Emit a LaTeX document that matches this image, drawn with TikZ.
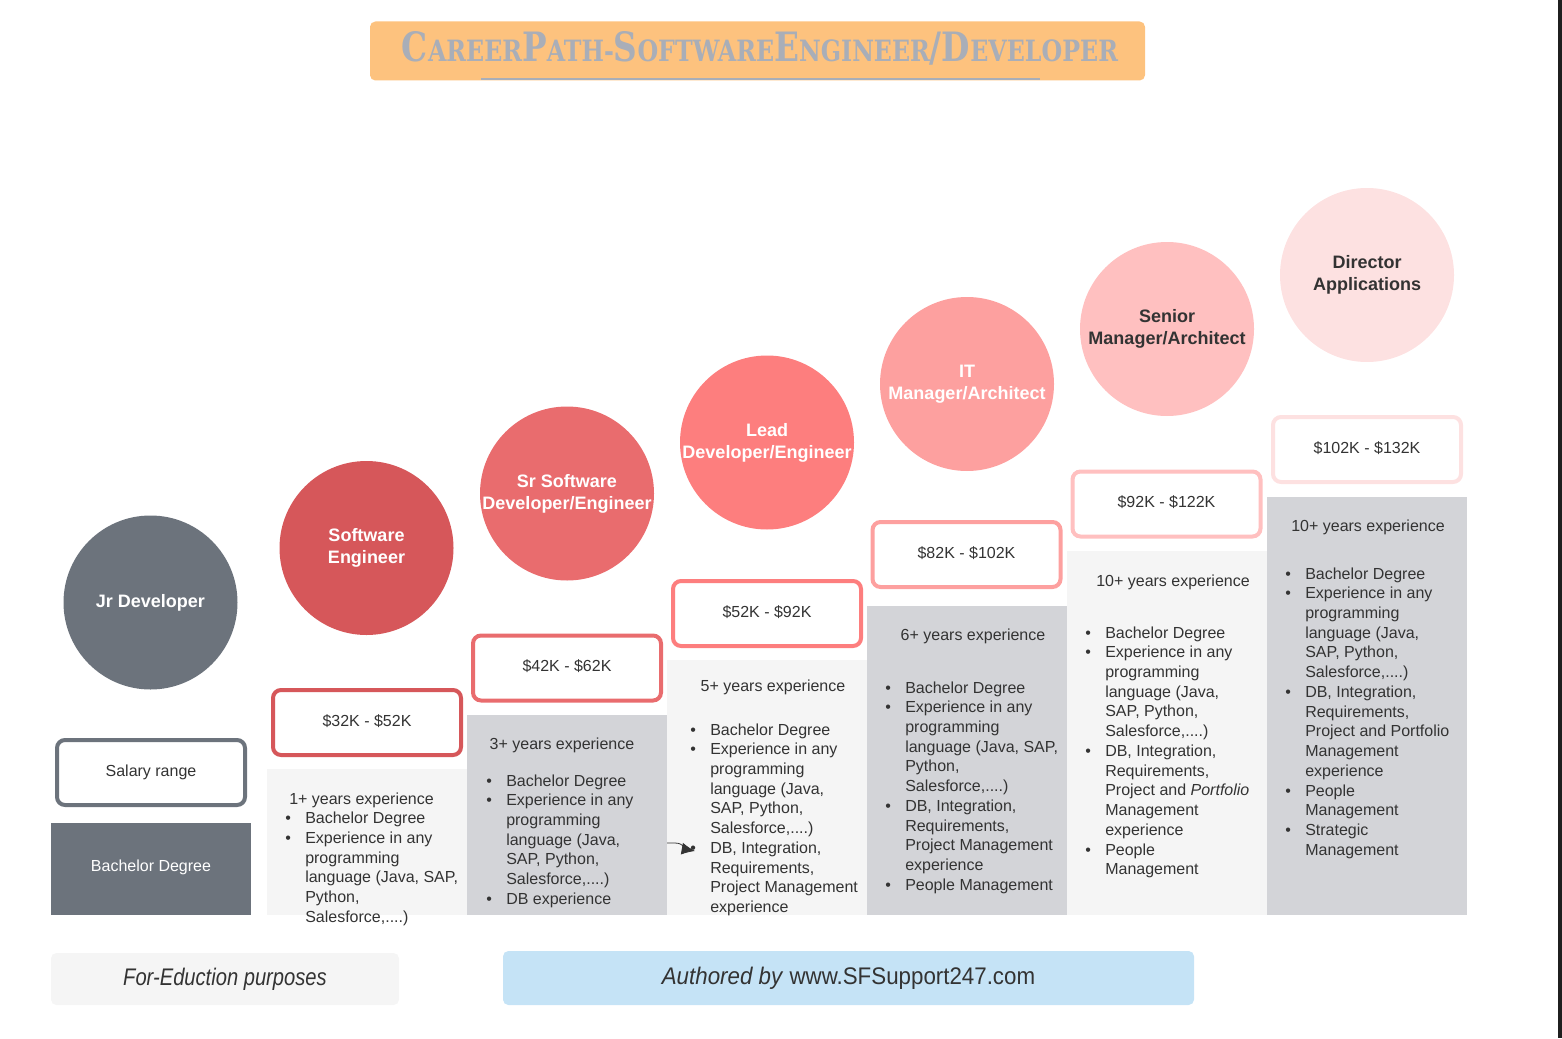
\documentclass[tikz,border=0pt]{standalone}
\usepackage{fontspec}
\setmainfont{Liberation Sans}
\newfontfamily\titlefont[FakeStretch=0.75]{DejaVu Serif}
\newfontfamily\footfont[FakeStretch=0.84]{Liberation Sans}
\newfontfamily\authfont[FakeStretch=0.93]{Liberation Sans}
\usetikzlibrary{arrows.meta}
\definecolor{jrgray}{HTML}{6C737C}
\definecolor{lvlone}{HTML}{D6575A}
\definecolor{lvltwo}{HTML}{E96C6E}
\definecolor{lvlthree}{HTML}{FD7E7E}
\definecolor{lvlfour}{HTML}{FDA09F}
\definecolor{lvlfive}{HTML}{FFC0C0}
\definecolor{lvlsix}{HTML}{FDE1E1}
\definecolor{bandlight}{HTML}{F5F5F5}
\definecolor{bandmid}{HTML}{D3D4D8}
\definecolor{titleorange}{HTML}{FDC27E}
\definecolor{titlegray}{HTML}{A9AEB8}
\definecolor{footblue}{HTML}{C5E3F6}
\definecolor{ink}{HTML}{333333}
\newcommand{\bu}{\makebox[15pt][l]{\textbullet}}
\newcommand{\ind}{\hspace*{15pt}}
\newcommand{\tcap}[2]{{\fontsize{31}{31}\selectfont #1}{\fontsize{22.5}{22.5}\selectfont #2}}

\begin{document}
\begin{tikzpicture}[x=0.75pt, y=-0.75pt,
    role/.style={circle, minimum size=130.5pt, inner sep=0pt, align=center, font=\fontsize{13.5}{16.5}\selectfont\bfseries},
    paybox/.style={draw, line width=3pt, rounded corners=6pt, fill=white, minimum width=141pt, minimum height=48.75pt, text=ink, font=\fontsize{12}{14.8}\selectfont, text depth=3pt},
    band/.style={anchor=north west, inner sep=0pt, minimum width=150pt},
    bandhead/.style={anchor=base, inner sep=0pt, text=ink, font=\fontsize{12}{14.8}\selectfont},
    bandlist/.style={anchor=base west, inner sep=0pt, text=ink, font=\fontsize{12}{14.8}\selectfont},
    footbox/.style={rounded corners=4pt, inner sep=0pt, text=ink}]
        \useasboundingbox (0,0) rectangle (1562,1038);
        % Title, steps, circles and salary boxes:
        \node[fill=titleorange, rounded corners=4pt, minimum width=581.25pt, minimum height=44.25pt] (title) at (757.5, 51){};
        \node[anchor=base, inner sep=0pt, text=titlegray] (titletext) at (760, 62){\resizebox{537pt}{22.5pt}{\titlefont\bfseries\tcap{C}{AREER}\tcap{P}{ATH}{\fontsize{22.5}{22.5}\selectfont-}\tcap{S}{OFTWARE}\tcap{E}{NGINEER}{\fontsize{31}{31}\selectfont/}\tcap{D}{EVELOPER}}};
        \draw[titlegray, line width=1.5pt] (481, 79) -- (1040, 79);
        \node[band, fill=jrgray, minimum height=69pt] (degree) at (51, 823){};
        \node[text=white, font=\fontsize{12}{14.8}\selectfont] (degreetext) at (151, 867){Bachelor Degree};
        \node[band, fill=bandlight, minimum height=109.5pt] (colone) at (267, 769){};
        \node[band, fill=bandmid, minimum height=150pt] (coltwo) at (467, 715){};
        \node[band, fill=bandlight, minimum height=191.25pt] (colthree) at (667, 660){};
        \node[band, fill=bandmid, minimum height=231.75pt] (colfour) at (867, 606){};
        \node[band, fill=bandlight, minimum height=273pt] (colfive) at (1067, 551){};
        \node[band, fill=bandmid, minimum height=313.5pt] (colsix) at (1267, 497){};
        \node[role, fill=jrgray, text=white] (jr) at (150.5, 602.5){Jr Developer};
        \node[role, fill=lvlone, text=white] (swe) at (366.5, 548){Software\\Engineer};
        \node[role, fill=lvltwo, text=white] (srswe) at (567, 493.5){Sr Software\\Developer/Engineer};
        \node[role, fill=lvlthree, text=white] (lead) at (767, 442.5){Lead\\Developer/Engineer};
        \node[role, fill=lvlfour, text=white] (itmgr) at (967, 384){IT\\Manager/Architect};
        \node[role, fill=lvlfive, text=ink] (srmgr) at (1167, 329){Senior\\Manager/Architect};
        \node[role, fill=lvlsix, text=ink] (director) at (1367, 275){Director\\Applications};
        \node[paybox, draw=jrgray] (salary) at (151, 772.5){Salary range};
        \node[paybox, draw=lvlone] (payone) at (367, 722.5){\$32K - \$52K};
        \node[paybox, draw=lvltwo] (paytwo) at (567, 668){\$42K - \$62K};
        \node[paybox, draw=lvlthree] (paythree) at (767, 613.5){\$52K - \$92K};
        \node[paybox, draw=lvlfour] (payfour) at (966.5, 554.5){\$82K - \$102K};
        \node[paybox, draw=lvlfive] (payfive) at (1166.5, 504){\$92K - \$122K};
        \node[paybox, draw=lvlsix] (paysix) at (1367, 449.5){\$102K - \$132K};
        % Requirements per step:
        \node[bandlist] (listone) at (285, 804){\begin{tabular}[t]{@{}l@{}}\hspace*{3pt}1+ years experience\\ \bu Bachelor Degree\\ \bu Experience in any\\ \ind programming\\ \ind language (Java, SAP,\\ \ind Python,\\ \ind Salesforce,....)\end{tabular}};
        \node[bandhead] (headtwo) at (562, 749){3+ years experience};
        \node[bandlist] (listtwo) at (486, 786){\begin{tabular}[t]{@{}l@{}}\bu Bachelor Degree\\ \bu Experience in any\\ \ind programming\\ \ind language (Java,\\ \ind SAP, Python,\\ \ind Salesforce,....)\\ \bu DB experience\end{tabular}};
        \node[bandhead] (headthree) at (773, 691){5+ years experience};
        \node[bandlist] (listthree) at (690, 735){\begin{tabular}[t]{@{}l@{}}\bu Bachelor Degree\\ \bu Experience in any\\ \ind programming\\ \ind language (Java,\\ \ind SAP, Python,\\ \ind Salesforce,....)\\ \bu DB, Integration,\\ \ind Requirements,\\ \ind Project Management\\ \ind experience\end{tabular}};
        \node[bandhead] (headfour) at (973, 640){6+ years experience};
        \node[bandlist] (listfour) at (885, 693){\begin{tabular}[t]{@{}l@{}}\bu Bachelor Degree\\ \bu Experience in any\\ \ind programming\\ \ind language (Java, SAP,\\ \ind Python,\\ \ind Salesforce,....)\\ \bu DB, Integration,\\ \ind Requirements,\\ \ind Project Management\\ \ind experience\\ \bu People Management\end{tabular}};
        \node[bandhead] (headfive) at (1173, 586){10+ years experience};
        \node[bandlist] (listfive) at (1085, 638){\begin{tabular}[t]{@{}l@{}}\bu Bachelor Degree\\ \bu Experience in any\\ \ind programming\\ \ind language (Java,\\ \ind SAP, Python,\\ \ind Salesforce,....)\\ \bu DB, Integration,\\ \ind Requirements,\\ \ind Project and \textit{Portfolio}\\ \ind Management\\ \ind experience\\ \bu People\\ \ind Management\end{tabular}};
        \node[bandhead] (headsix) at (1368, 531){10+ years experience};
        \node[bandlist] (listsix) at (1285, 579){\begin{tabular}[t]{@{}l@{}}\bu Bachelor Degree\\ \bu Experience in any\\ \ind programming\\ \ind language (Java,\\ \ind SAP, Python,\\ \ind Salesforce,....)\\ \bu DB, Integration,\\ \ind Requirements,\\ \ind Project and Portfolio\\ \ind Management\\ \ind experience\\ \bu People\\ \ind Management\\ \bu Strategic\\ \ind Management\end{tabular}};
        \coordinate (stray) at (667, 843);
        \coordinate (straybend) at (675, 843);
        \coordinate (straytip) at (695, 851);
        \draw[ink, line width=0.6pt, -{Latex[length=10pt, width=9pt]}] (stray) -- (straybend) to[out=0, in=170] (straytip);
        % Footer:
        \node[footbox, fill=bandlight, minimum width=261pt, minimum height=39pt] (edu) at (225, 979){\footfont\fontsize{18}{20}\selectfont\itshape For-Eduction purposes};
        \node[footbox, fill=footblue, minimum width=518.25pt, minimum height=40.5pt] (auth) at (848.5, 978){\authfont\fontsize{18}{20}\selectfont\textit{Authored by} www.SFSupport247.com};
        \fill[black!88] (1558, 0) rectangle (1562, 1038);
    \end{tikzpicture}
\end{document}
